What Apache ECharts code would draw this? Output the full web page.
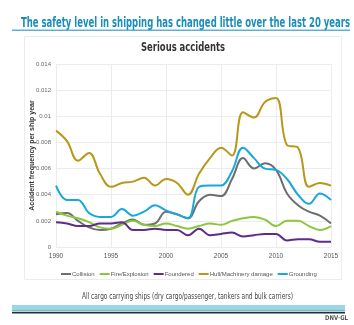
<!DOCTYPE html>
<html><head><meta charset="utf-8">
<script src="https://cdn.jsdelivr.net/npm/echarts@6/dist/echarts.min.js"></script>
<style>html,body{margin:0;padding:0;background:#fff}#c{width:354px;height:325px}</style>
</head><body><div id="c"></div>
<script>
const years = ['1990','1991','1992','1993','1994','1995','1996','1997','1998','1999','2000','2001','2002','2003','2004','2005','2006','2007','2008','2009','2010','2011','2012','2013','2014','2015'];
const xTickLabels = ['1990','1995','2000','2005','2010','2015'];
const yTickLabels = ['0','0.002','0.004','0.006','0.008','0.01','0.012','0.014'];
const collision = [0.0025,0.0026,0.0020,0.0015,0.0013,0.0014,0.0018,0.0021,0.0017,0.0018,0.0027,0.0025,0.0022,0.0035,0.0040,0.0039,0.0052,0.0068,0.0060,0.0064,0.0059,0.0041,0.0032,0.0027,0.0024,0.0018];
const fireExplosion = [0.0027,0.0024,0.0022,0.0019,0.0015,0.0014,0.0017,0.0020,0.0017,0.0016,0.0018,0.0016,0.0014,0.0016,0.0018,0.0017,0.0020,0.0022,0.0023,0.0021,0.0016,0.0020,0.0020,0.0016,0.0013,0.0016];
const foundered = [0.0019,0.0018,0.0016,0.0016,0.0018,0.0018,0.0019,0.0013,0.0013,0.0014,0.0013,0.0013,0.0009,0.0014,0.0009,0.0010,0.0011,0.0008,0.0009,0.0010,0.0010,0.0005,0.0006,0.0006,0.0004,0.0004];
const hullMachinery = [0.0089,0.0081,0.0066,0.0072,0.0056,0.0046,0.0049,0.0050,0.0053,0.0047,0.0052,0.0049,0.0040,0.0056,0.0068,0.0076,0.0070,0.0103,0.0099,0.0111,0.0114,0.0078,0.0076,0.0046,0.0049,0.0047];
const grounding = [0.0047,0.0036,0.0036,0.0026,0.0023,0.0023,0.0029,0.0024,0.0027,0.0032,0.0028,0.0025,0.0022,0.0046,0.0047,0.0047,0.0058,0.0076,0.0068,0.0060,0.0059,0.0052,0.0040,0.0033,0.0041,0.0036];
const seriesNames = ['Collision','Fire/Explosion','Foundered','Hull/Machinery damage','Grounding'];
const seriesData = [collision, fireExplosion, foundered, hullMachinery, grounding];
const colors = ['#6d6e70','#8cc63e','#5c2d8c','#b7981b','#1aa7dc'];

const mctx = document.createElement('canvas').getContext('2d');
function fitText(text, font, cx, cy, width, fill) {
  mctx.font = font;
  const w = mctx.measureText(text).width;
  return {type:'text', x:cx, y:cy, scaleX: width / w, scaleY:1,
    style:{text:text, font:font, fill:fill, textAlign:'center', textVerticalAlign:'middle', align:'center', verticalAlign:'middle'}};
}

const chart = echarts.init(document.getElementById('c'), null, {renderer:'canvas'});
const small = '"Liberation Sans",sans-serif';
chart.setOption({
  backgroundColor:'#fff',
  animation:false,
  color: colors,
  graphic:[
    fitText('The safety level in shipping has changed little over the last 20 years', 'bold 14px "DejaVu Sans", sans-serif', 185.5, 23, 329, '#1a8dbd'),
    {type:'rect', shape:{x:12,y:29.5,width:338,height:1.5}, style:{fill:'#5fb0d3'}, z:-1},
    {type:'rect', shape:{x:24.5,y:36.5,width:317,height:243}, style:{fill:'none', stroke:'#ececec', lineWidth:1}, z:-1},
    fitText('Serious accidents', 'bold 13px "DejaVu Sans", sans-serif', 183, 48, 84, '#333'),
    fitText('All cargo carrying ships (dry cargo/passenger, tankers and bulk carriers)', '8.5px "DejaVu Sans", sans-serif', 187.5, 297, 211, '#444'),
    {type:'rect', shape:{x:12,y:305,width:333,height:5}, style:{fill:'#9ad6ea'}},
    {type:'rect', shape:{x:12,y:310,width:333,height:1.5}, style:{fill:'#7fb7a8'}},
    {type:'rect', shape:{x:12,y:312,width:333,height:1.5}, style:{fill:'#1c2d4f'}},
    fitText('DNV·GL', 'bold 6.5px "DejaVu Sans", sans-serif', 336.5, 318.5, 23, '#555')
  ],
  legend:{
    data: seriesNames, top:266, left:56, itemGap:5, itemWidth:10, itemHeight:2,
    icon:'rect',
    textStyle:{fontFamily:small, fontSize:6, color:'#555', padding:[0,0,0,-4]}
  },
  grid:{left:56, right:23, top:64, bottom:78, containLabel:false},
  xAxis:{
    type:'value', min:1990, max:2015, interval:5,
    axisLine:{show:false}, axisTick:{show:false},
    axisLabel:{fontFamily:small, fontSize:6.5, color:'#555', margin:6,
      formatter: v => xTickLabels[xTickLabels.indexOf(String(v))] || ''},
    splitLine:{show:true, lineStyle:{color:'#ececec', width:1}}
  },
  yAxis:{
    type:'value', min:0, max:0.014, interval:0.002,
    name:'Accident frequency per ship year', nameLocation:'middle', nameGap:20, nameRotate:90,
    nameMoveOverlap:false,
    nameTextStyle:{fontFamily:small, fontSize:7, fontWeight:'bold', color:'#333'},
    axisLine:{show:false}, axisTick:{show:false},
    axisLabel:{fontFamily:small, fontSize:6, color:'#666', margin:5,
      formatter: (v) => yTickLabels[Math.round(v/0.002)]},
    splitLine:{show:true, lineStyle:{color:'#ececec', width:1}}
  },
  series: seriesNames.map((n, k) => ({
    name:n, type:'line', smooth:0.4, showSymbol:false, symbol:'none',
    lineStyle:{width:2, color:colors[k]},
    data: years.map((y, i) => [Number(y), seriesData[k][i]])
  }))
});
</script></body></html>
